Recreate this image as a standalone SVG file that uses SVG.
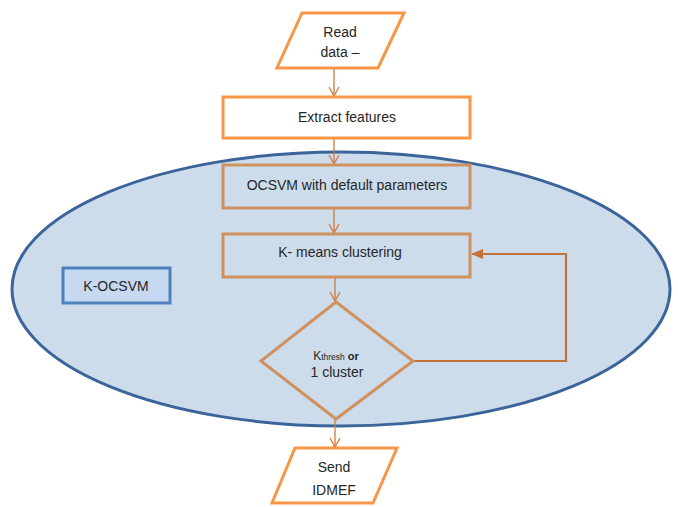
<svg xmlns="http://www.w3.org/2000/svg" width="678" height="507" viewBox="0 0 678 507">
<style>
  text { font-family: "Liberation Sans", Arial, sans-serif; fill: #262626; font-size: 14px; text-anchor: middle; }
  .io { fill: #ffffff; stroke: #F79646; stroke-width: 3; stroke-linejoin: miter; }
  .inner { fill: #CDDCEB; stroke: #CF9160; stroke-width: 3; }
  .conn { fill: none; stroke: #D4783A; stroke-width: 1.3; }
  .loop { fill: none; stroke: #C27339; stroke-width: 2.2; }
</style>
<defs>
  <marker id="open" markerWidth="14" markerHeight="12" refX="10" refY="6" orient="auto" markerUnits="userSpaceOnUse">
    <path d="M1,1 L10,6 L1,11" fill="none" stroke="#D4783A" stroke-width="1.3"/>
  </marker>
  <marker id="solid" markerWidth="14" markerHeight="12" refX="11" refY="6" orient="auto" markerUnits="userSpaceOnUse">
    <path d="M0,1 L12,6 L0,11 Z" fill="#C27339"/>
  </marker>
</defs>
<rect width="678" height="507" fill="#ffffff"/>

<g id="ellipse-k-ocsvm">
  <ellipse cx="341" cy="289" rx="329" ry="137" fill="#CDDCEB" stroke="#3B659A" stroke-width="3"/>
</g>

<g id="connectors">
  <line class="conn" x1="334" y1="69" x2="334" y2="96" marker-end="url(#open)"/>
  <line class="conn" x1="334" y1="139" x2="334" y2="164" marker-end="url(#open)"/>
  <line class="conn" x1="334" y1="209" x2="334" y2="233" marker-end="url(#open)"/>
  <line class="conn" x1="335" y1="278" x2="335" y2="301" marker-end="url(#open)"/>
  <line class="conn" x1="335" y1="420" x2="335" y2="447" marker-end="url(#open)"/>
  <polyline class="loop" points="413,361 566,361 566,254 472,254" marker-end="url(#solid)"/>
</g>

<g id="read-data">
  <polygon class="io" points="302,13 404,13 378,68 277,68"/>
  <text x="340" y="37">Read</text>
  <text x="340" y="57">data –</text>
</g>

<g id="extract-features">
  <rect class="io" x="223" y="97" width="247" height="41"/>
  <text x="347" y="122">Extract features</text>
</g>

<g id="ocsvm">
  <rect class="inner" x="223" y="165" width="247" height="43"/>
  <text x="347" y="190">OCSVM with default parameters</text>
</g>

<g id="kmeans">
  <rect class="inner" x="223" y="234" width="247" height="43"/>
  <text x="340" y="257">K- means clustering</text>
</g>

<g id="decision">
  <polygon class="inner" points="336,302 413,361 336,419 261,361"/>
  <text x="336" y="360"><tspan font-size="12">K</tspan><tspan font-size="8.5">thresh</tspan><tspan font-size="11" font-weight="bold"> or</tspan></text>
  <text x="337" y="377">1 cluster</text>
</g>

<g id="k-ocsvm-label">
  <rect x="63" y="268" width="107" height="35" fill="#C6D9F1" stroke="#4F81BD" stroke-width="3"/>
  <text x="116" y="291" font-size="16">K-OCSVM</text>
</g>

<g id="send-idmef">
  <polygon class="io" points="295,448 397,448 373,503 272,503"/>
  <text x="334" y="472">Send</text>
  <text x="334" y="495">IDMEF</text>
</g>
</svg>
